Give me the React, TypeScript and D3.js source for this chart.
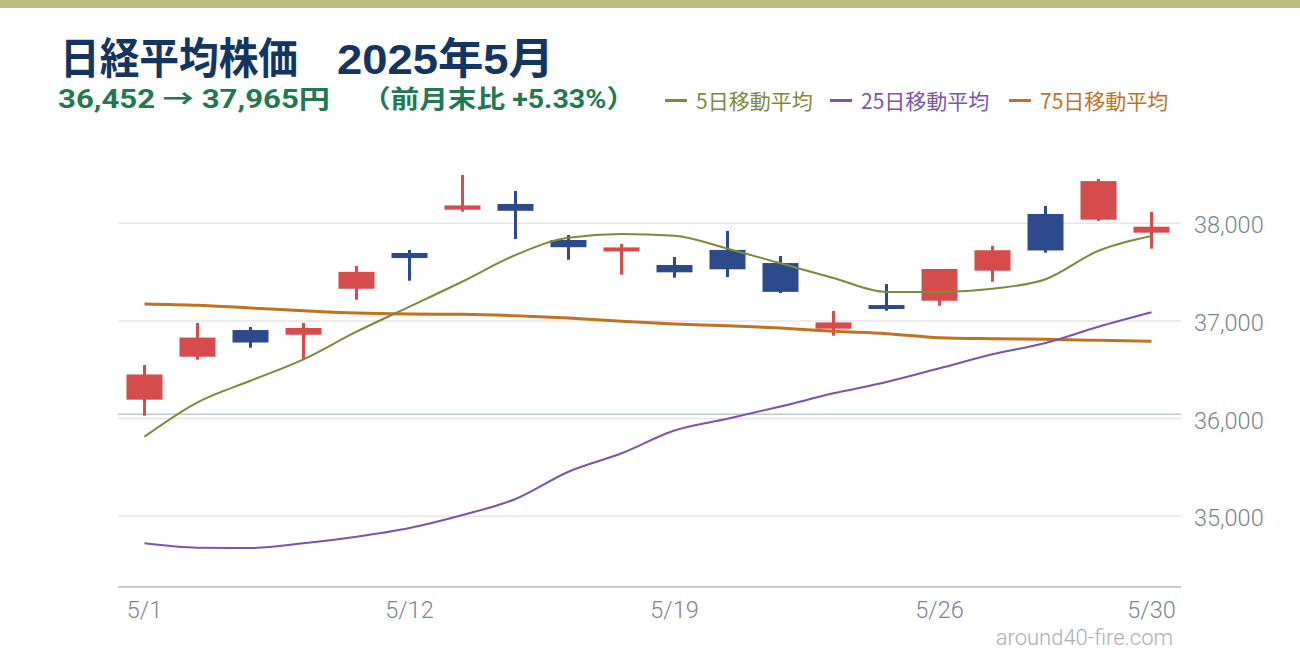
import React from "react";
import * as d3 from "d3";

const dates = ["5/1","5/2","5/7","5/8","5/9","5/12","5/13","5/14","5/15","5/16","5/19","5/20","5/21","5/22","5/23","5/26","5/27","5/28","5/29","5/30"];
const openV = [36194,36634,36907,36859,37330,37696,38139,38198,37829,37730,37573,37727,37593,36921,37163,37207,37515,38095,38037,37904];
const highV = [36549,36979,36938,36979,37563,37727,38495,38331,37880,37788,37655,37921,37665,37102,37378,37532,37768,38177,38454,38116];
const lowV = [36030,36603,36726,36610,37218,37412,38119,37839,37627,37474,37443,37450,37285,36849,37105,37156,37402,37699,38024,37740];
const closeV = [36452,36830,36779,36928,37503,37644,38183,38128,37755,37753,37498,37529,37298,36985,37136,37532,37724,37722,38432,37965];
const ma5 = [35815,36167,36388,36607,36890,37146,37404,37675,37853,37890,37873,37740,37590,37440,37297,37297,37330,37427,37719,37870];
const ma25 = [34723,34678,34675,34723,34791,34880,35013,35177,35456,35645,35878,35998,36124,36259,36375,36515,36659,36774,36941,37089];
const ma75 = [37174,37160,37133,37105,37081,37071,37068,37054,37030,36996,36969,36951,36927,36894,36870,36829,36818,36812,36802,36792];
const prevMonthClose = 36045;
const yTicks = [35000, 36000, 37000, 38000];
const xTickLabels = ["5/1", "5/12", "5/19", "5/26", "5/30"];
const legendLabels = ["5日移動平均", "25日移動平均", "75日移動平均"];
const titleMain = "日経平均株価";
const titleDate = "2025年5月";
const subPrice = "36,452 → 37,965円";
const subChange = "（前月末比 +5.33%）";
const watermark = "around40-fire.com";

const W = 1300, H = 660;
const UP = "#d64b4b", DOWN = "#2e4a8c";
const C5 = "#7d8a3a", C25 = "#7b55a9", C75 = "#c0731f";
const HEAD = "'Liberation Sans', 'Noto Sans CJK JP', sans-serif";
const SUB = "Roboto, 'Noto Sans CJK JP', sans-serif";
const CJK = "'Noto Sans CJK JP', 'Noto Sans', sans-serif";
const AX = "Roboto, 'Noto Sans', sans-serif";

export default function App() {
  const x = d3.scaleBand<string>().domain(dates).range([118, 1178]).padding(0);
  const y = d3.scaleLinear().domain([34276, 38648]).range([587, 160]);
  const cx = (d: string) => (x(d) as number) + x.bandwidth() / 2;
  const bodyW = 36;

  const mkLine = (vals: number[]) =>
    d3.line<number>().x((_, i) => cx(dates[i])).y((v) => y(v)).curve(d3.curveMonotoneX)(vals) || "";

  const legendCols = [C5, C25, C75];
  const legendX = [665, 830, 1009];

  return (
    <svg width={W} height={H} style={{ position: "absolute", left: 0, top: 0, background: "#fff" }}>
      <rect x={0} y={0} width={W} height={H} fill="#fff" />
      <rect x={0} y={0} width={W} height={8} fill="#b8bc7f" />
      <text x={60} y={74} fontFamily={HEAD} fontWeight={700} fontSize={43} fill="#143461" textLength={238} lengthAdjust="spacingAndGlyphs">{titleMain}</text>
      <text x={337} y={74} fontFamily={HEAD} fontWeight={700} fontSize={43} fill="#143461" textLength={217} lengthAdjust="spacingAndGlyphs">{titleDate}</text>
      <text x={58} y={108} fontFamily={SUB} fontWeight={700} fontSize={25} fill="#1f7a52" textLength={272} lengthAdjust="spacingAndGlyphs">{subPrice}</text>
      <text x={362} y={108} fontFamily={SUB} fontWeight={700} fontSize={25} fill="#1f7a52" textLength={273} lengthAdjust="spacingAndGlyphs">{subChange}</text>

      {legendLabels.map((lab, i) => (
        <g key={lab}>
          <line x1={legendX[i]} x2={legendX[i] + 22} y1={100.5} y2={100.5} stroke={legendCols[i]} strokeWidth={3} />
          <text x={legendX[i] + 31} y={109} fontFamily={CJK} fontSize={21} fill={legendCols[i]}>{lab}</text>
        </g>
      ))}

      {yTicks.map((t) => (
        <g key={t}>
          <line x1={118} x2={1181} y1={y(t)} y2={y(t)} stroke="#e6e6e6" strokeWidth={1.5} />
          <text x={1194} y={y(t) + 10} fontFamily={AX} fontWeight={300} fontSize={23.5} fill="#7b8591">{d3.format(",")(t)}</text>
        </g>
      ))}
      <line x1={118} x2={1181} y1={y(prevMonthClose)} y2={y(prevMonthClose)} stroke="#c2c9ce" strokeWidth={1.5} />
      <line x1={118} x2={1181} y1={587} y2={587} stroke="#c8ccd0" strokeWidth={2} />

      {xTickLabels.map((l) => (
        <text key={l} x={cx(l)} y={618} textAnchor="middle" fontFamily={AX} fontWeight={300} fontSize={23.5} fill="#7b8591">{l}</text>
      ))}

      {dates.map((d, i) => {
        const up = closeV[i] >= openV[i];
        const col = up ? UP : DOWN;
        const top = y(Math.max(openV[i], closeV[i]));
        const bot = y(Math.min(openV[i], closeV[i]));
        return (
          <g key={d}>
            <rect x={cx(d) - 1.5} y={y(highV[i])} width={3} height={y(lowV[i]) - y(highV[i])} fill={col} />
            <rect x={cx(d) - bodyW / 2} y={top} width={bodyW} height={Math.max(bot - top, 4)} fill={col} />
          </g>
        );
      })}

      <path d={mkLine(ma75)} fill="none" stroke={C75} strokeWidth={3} />
      <path d={mkLine(ma25)} fill="none" stroke={C25} strokeWidth={2} />
      <path d={mkLine(ma5)} fill="none" stroke={C5} strokeWidth={2} />

      <text x={1173} y={645} textAnchor="end" fontFamily={AX} fontWeight={300} fontSize={22} fill="#a9b0b8">{watermark}</text>
    </svg>
  );
}
